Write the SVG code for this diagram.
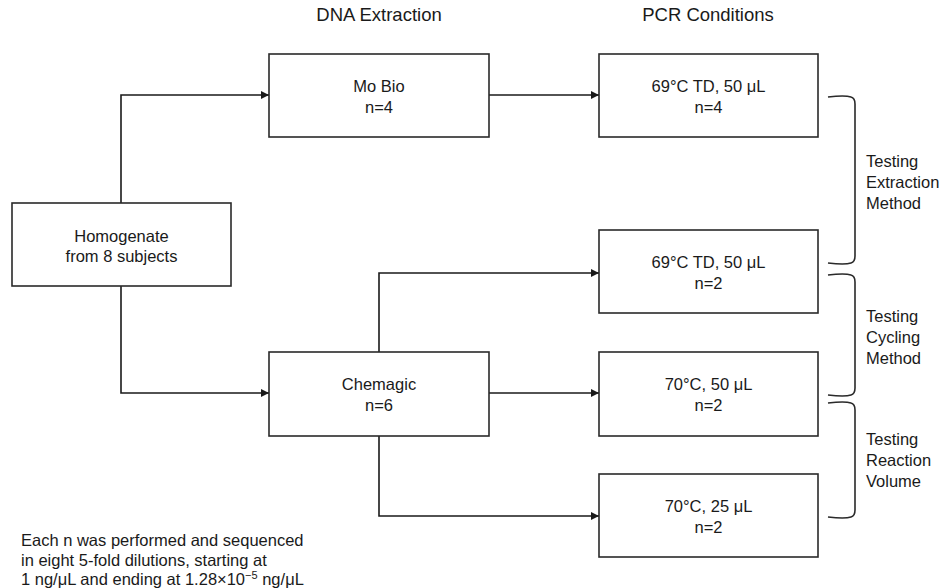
<svg xmlns="http://www.w3.org/2000/svg" width="940" height="588" viewBox="0 0 940 588">
<defs>
<marker id="ah" viewBox="0 0 10 10" refX="10" refY="5" markerWidth="10" markerHeight="8" markerUnits="userSpaceOnUse" orient="auto">
<path d="M0,0 L10,5 L0,10 Z" fill="#1a1a1a"/>
</marker>
<style>
.box{fill:#fff;stroke:#2a2a2a;stroke-width:1.6}
.t{font-family:"Liberation Sans",Arial,sans-serif;font-size:16.5px;fill:#1a1a1a;text-anchor:middle}
.h{font-family:"Liberation Sans",Arial,sans-serif;font-size:18.5px;fill:#1a1a1a;text-anchor:middle}
.l{font-family:"Liberation Sans",Arial,sans-serif;font-size:16.5px;fill:#1a1a1a}
.c{fill:none;stroke:#1a1a1a;stroke-width:1.6}
.b{fill:none;stroke:#2a2a2a;stroke-width:1.6}
</style>
</defs>
<rect width="940" height="588" fill="#fff"/>
<text class="h" x="379" y="21">DNA Extraction</text>
<text class="h" x="708" y="21">PCR Conditions</text>
<g id="connectors">
<path class="c" d="M121,203 V95 H269" marker-end="url(#ah)"/>
<path class="c" d="M121,286 V393 H269" marker-end="url(#ah)"/>
<path class="c" d="M489,95 H599" marker-end="url(#ah)"/>
<path class="c" d="M379,352 V273 H599" marker-end="url(#ah)"/>
<path class="c" d="M489,393 H599" marker-end="url(#ah)"/>
<path class="c" d="M379,436 V516 H599" marker-end="url(#ah)"/>
</g>
<g id="homogenate">
<rect class="box" x="12" y="203" width="219" height="83"/>
<text class="t" x="121.5" y="242">Homogenate</text>
<text class="t" x="121.5" y="262">from 8 subjects</text>
</g>
<g id="mobio">
<rect class="box" x="269" y="54" width="220" height="83"/>
<text class="t" x="379" y="92">Mo Bio</text>
<text class="t" x="379" y="113">n=4</text>
</g>
<g id="chemagic">
<rect class="box" x="269" y="352" width="220" height="84"/>
<text class="t" x="379" y="390">Chemagic</text>
<text class="t" x="379" y="411">n=6</text>
</g>
<g id="pcr1">
<rect class="box" x="599" y="54" width="219" height="83"/>
<text class="t" x="708.5" y="92">69°C TD, 50 μL</text>
<text class="t" x="708.5" y="113">n=4</text>
</g>
<g id="pcr2">
<rect class="box" x="599" y="230" width="219" height="83"/>
<text class="t" x="708.5" y="268">69°C TD, 50 μL</text>
<text class="t" x="708.5" y="289">n=2</text>
</g>
<g id="pcr3">
<rect class="box" x="599" y="352" width="219" height="84"/>
<text class="t" x="708.5" y="390">70°C, 50 μL</text>
<text class="t" x="708.5" y="411">n=2</text>
</g>
<g id="pcr4">
<rect class="box" x="599" y="474" width="219" height="83"/>
<text class="t" x="708.5" y="512">70°C, 25 μL</text>
<text class="t" x="708.5" y="533">n=2</text>
</g>
<g id="brace-extraction">
<path class="b" d="M828,97 Q845,95 851,97 Q855,98 855,104 V256 Q855,262 851,263 Q845,265 828,263"/>
<text class="l" x="866" y="167">Testing</text>
<text class="l" x="866" y="188">Extraction</text>
<text class="l" x="866" y="209">Method</text>
</g>
<g id="brace-cycling">
<path class="b" d="M828,275 Q845,273 851,275 Q855,276 855,282 V388 Q855,394 851,395 Q845,397 828,395"/>
<text class="l" x="866" y="322">Testing</text>
<text class="l" x="866" y="343">Cycling</text>
<text class="l" x="866" y="364">Method</text>
</g>
<g id="brace-volume">
<path class="b" d="M828,403 Q845,401 851,403 Q855,404 855,410 V510 Q855,516 851,517 Q845,519 828,517"/>
<text class="l" x="866" y="445">Testing</text>
<text class="l" x="866" y="466">Reaction</text>
<text class="l" x="866" y="487">Volume</text>
</g>
<g id="note">
<text class="l" x="21" y="546">Each n was performed and sequenced</text>
<text class="l" x="21" y="566">in eight 5-fold dilutions, starting at</text>
<text class="l" x="21" y="585">1 ng/μL and ending at 1.28×10<tspan dy="-6" font-size="11">−5</tspan><tspan dy="6"> ng/μL</tspan></text>
</g>
</svg>
